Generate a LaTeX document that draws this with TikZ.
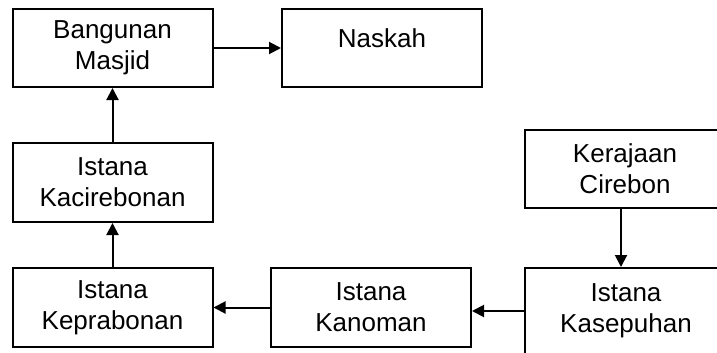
\documentclass[tikz,border=0pt]{standalone}
\usepackage{fontspec}
\setmainfont{Liberation Sans}
\usetikzlibrary{arrows.meta}

\begin{document}
\begin{tikzpicture}[x=0.75pt, y=-0.75pt,
  box/.style={draw=black, line width=1.5pt, fill=white, inner sep=0pt,
    minimum width=150pt, minimum height=58.5pt, align=center,
    font=\fontsize{19.5pt}{23pt}\selectfont},
  arr/.style={line width=1.5pt, -{Triangle[length=9pt,width=9pt]}}]
  \useasboundingbox (0,0) rectangle (717,353);
  \clip (0,0) rectangle (717,353);

  % top row
  \node[box] (masjid) at (112.5,48) {Bangunan\\Masjid};
  \node[box, text height=14pt, text depth=14pt] (naskah) at (382,48) {Naskah};

  % left column
  \node[box, minimum height=59.25pt] (kacirebonan) at (112.5,182.5) {Istana\\Kacirebonan};

  % right column, running past the page edge
  \node[box] (kerajaan) at (625,169) {Kerajaan\\Cirebon};

  % bottom row
  \node[box, minimum height=59.25pt] (keprabonan) at (112.5,307.5) {Istana\\Keprabonan};
  \node[box, minimum height=59.25pt] (kanoman) at (371,307.5) {Istana\\Kanoman};
  \node[box, minimum width=151.5pt, minimum height=64.5pt] (kasepuhan) at (626,311) {Istana\\Kasepuhan};

  % connectors
  \draw[arr] (masjid.east) -- (naskah.west);
  \draw[arr] (kacirebonan.north) -- (masjid.south);
  \draw[arr] (keprabonan.north) -- (kacirebonan.south);
  \draw[arr] (kanoman.west) -- (keprabonan.east);
  \draw[arr] (kasepuhan.west) -- (kasepuhan.west -| kanoman.east);
  \draw[arr] ([xshift=-3pt]kerajaan.south) -- ([xshift=-3pt]kerajaan.south |- kasepuhan.north);
\end{tikzpicture}
\end{document}
